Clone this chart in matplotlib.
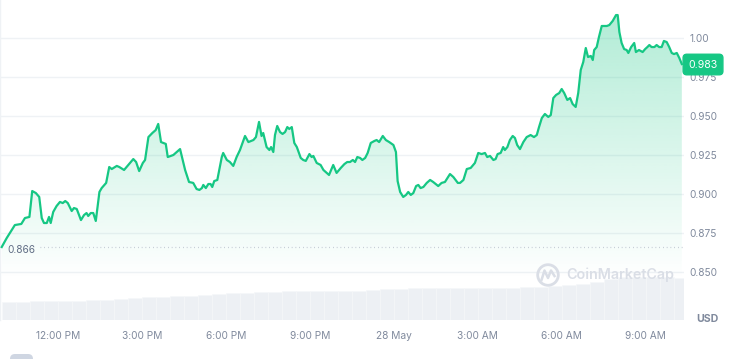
import numpy as np
import matplotlib
matplotlib.use("Agg")
import matplotlib.pyplot as plt
from matplotlib.patches import Circle, FancyBboxPatch
from matplotlib.lines import Line2D
from matplotlib.transforms import IdentityTransform

plt.rcParams['font.family'] = ['Inter', 'DejaVu Sans']

# ---------------- data ----------------
# time in hours relative to 12:00 PM (27 May); price in USD
hours = [-2.00, -1.82, -1.53, -1.30, -1.17, -1.01, -0.91, -0.78, -0.66, -0.57, -0.49, -0.39, -0.31,
         -0.25, -0.16, -0.04, 0.08, 0.18, 0.27, 0.36, 0.50, 0.58, 0.68, 0.83, 0.94, 1.03, 1.09, 1.18,
         1.27, 1.36, 1.49, 1.57, 1.73, 1.84, 1.93, 2.11, 2.20, 2.37, 2.52, 2.70, 2.80, 2.91, 3.04,
         3.12, 3.24, 3.38, 3.50, 3.59, 3.69, 3.77, 3.86, 3.93, 4.13, 4.25, 4.37, 4.55, 4.69, 4.84,
         4.96, 5.06, 5.15, 5.20, 5.29, 5.38, 5.46, 5.52, 5.59, 5.70, 5.86, 5.91, 6.04, 6.15, 6.27,
         6.39, 6.51, 6.69, 6.81, 6.99, 7.08, 7.19, 7.28, 7.34, 7.46, 7.56, 7.62, 7.70, 7.76, 7.84,
         7.94, 8.03, 8.12, 8.20, 8.27, 8.36, 8.45, 8.54, 8.68, 8.77, 8.86, 8.99, 9.07, 9.13, 9.25,
         9.39, 9.49, 9.61, 9.69, 9.84, 9.96, 10.11, 10.24, 10.34, 10.44, 10.54, 10.62, 10.70, 10.80,
         10.88, 10.98, 11.07, 11.18, 11.31, 11.39, 11.48, 11.61, 11.72, 11.84, 11.99, 12.08, 12.14,
         12.23, 12.34, 12.44, 12.52, 12.61, 12.70, 12.80, 12.88, 12.96, 13.06, 13.18, 13.30, 13.41,
         13.59, 13.71, 13.83, 14.01, 14.13, 14.29, 14.37, 14.49, 14.61, 14.75, 14.90, 15.02, 15.14,
         15.26, 15.34, 15.44, 15.56, 15.64, 15.71, 15.82, 15.91, 15.97, 16.06, 16.15, 16.25, 16.33,
         16.41, 16.51, 16.63, 16.75, 16.89, 17.01, 17.11, 17.19, 17.29, 17.40, 17.52, 17.61, 17.70,
         17.80, 17.91, 18.00, 18.09, 18.20, 18.30, 18.39, 18.50, 18.59, 18.68, 18.77, 18.86, 18.94,
         19.04, 19.11, 19.16, 19.25, 19.33, 19.43, 19.61, 19.70, 19.82, 19.94, 20.00, 20.06, 20.14,
         20.23, 20.32, 20.38, 20.48, 20.59, 20.65, 20.76, 20.89, 20.98, 21.06, 21.13, 21.21, 21.31,
         21.39, 21.48, 21.57, 21.65, 21.75, 21.84, 21.93, 22.01, 22.11, 22.20, 22.29]
prices = [0.8660, 0.8718, 0.8801, 0.8808, 0.8846, 0.8853, 0.9019, 0.9006, 0.8981, 0.8846, 0.8814, 0.8814, 0.8853,
          0.8814, 0.8885, 0.8923, 0.8949, 0.8942, 0.8955, 0.8942, 0.8891, 0.8910, 0.8904, 0.8833, 0.8865, 0.8878, 0.8859, 0.8878,
          0.8878, 0.8827, 0.9013, 0.9038, 0.9071, 0.9173, 0.9160, 0.9180, 0.9173, 0.9154, 0.9186, 0.9224, 0.9205, 0.9147, 0.9199,
          0.9218, 0.9365, 0.9391, 0.9410, 0.9449, 0.9333, 0.9327, 0.9321, 0.9237, 0.9250, 0.9269, 0.9288, 0.9154, 0.9077, 0.9071,
          0.9032, 0.9026, 0.9038, 0.9058, 0.9038, 0.9064, 0.9064, 0.9045, 0.9083, 0.9090, 0.9237, 0.9263, 0.9218, 0.9205, 0.9180,
          0.9237, 0.9282, 0.9372, 0.9333, 0.9346, 0.9365, 0.9462, 0.9372, 0.9391, 0.9301, 0.9282, 0.9301, 0.9269, 0.9378, 0.9436,
          0.9397, 0.9385, 0.9397, 0.9429, 0.9417, 0.9429, 0.9327, 0.9301, 0.9231, 0.9218, 0.9212, 0.9256, 0.9237, 0.9244, 0.9199,
          0.9186, 0.9154, 0.9135, 0.9122, 0.9186, 0.9135, 0.9167, 0.9192, 0.9205, 0.9205, 0.9218, 0.9205, 0.9237, 0.9231,
          0.9218, 0.9231, 0.9263, 0.9327, 0.9340, 0.9346, 0.9333, 0.9372, 0.9346, 0.9333, 0.9314, 0.9269, 0.9083,
          0.9013, 0.8981, 0.8994, 0.9013, 0.8994, 0.9006, 0.9051, 0.9058, 0.9038, 0.9045, 0.9071, 0.9090, 0.9077,
          0.9051, 0.9071, 0.9077, 0.9128, 0.9109, 0.9071, 0.9071, 0.9090, 0.9160, 0.9167, 0.9199, 0.9263, 0.9256,
          0.9263, 0.9237, 0.9244, 0.9218, 0.9224, 0.9256, 0.9263, 0.9301, 0.9282, 0.9301, 0.9346, 0.9372, 0.9359,
          0.9314, 0.9288, 0.9333, 0.9365, 0.9378, 0.9365, 0.9378, 0.9429, 0.9487, 0.9513, 0.9494, 0.9506, 0.9615,
          0.9635, 0.9647, 0.9673, 0.9647, 0.9603, 0.9615, 0.9577, 0.9558, 0.9647, 0.9795, 0.9846, 0.9936, 0.9878,
          0.9885, 0.9859, 0.9923, 0.9942, 1.0006, 1.0077, 1.0077, 1.0083, 1.0109, 1.0147, 1.0147, 1.0038, 0.9968,
          0.9929, 0.9923, 0.9904, 0.9942, 0.9968, 0.9910, 0.9923, 0.9910, 0.9929, 0.9942, 0.9955, 0.9942, 0.9942,
          0.9955, 0.9942, 0.9942, 0.9981, 0.9974, 0.9942, 0.9904, 0.9897, 0.9904, 0.9872, 0.9833]

# volume (relative units), one bar per half hour starting at -2.0 h
vol_start = -2.0
volume = [18, 18.5, 19, 19, 19.5, 19.5, 20, 20.5, 21.5, 22, 23, 23.5, 24, 24.5, 25.5, 26, 27, 27.5,
          28, 28.5, 29, 29, 29.5, 29.5, 29.5, 29.5, 30, 31, 31.5, 32.5, 32.5, 32.5, 32.5, 32, 32, 32,
          32.5, 33, 33.5, 34, 35, 36.5, 38.5, 41, 43, 43, 43, 43, 42.5]

open_price = 0.866
last_price = 0.983
tick_hours = [0, 3, 6, 9, 12, 15, 18, 21]
tick_labels = ["12:00 PM", "3:00 PM", "6:00 PM", "9:00 PM", "28 May", "3:00 AM", "6:00 AM", "9:00 AM"]
y_ticks = [0.850, 0.875, 0.900, 0.925, 0.950, 0.975, 1.00]
y_labels = ["0.850", "0.875", "0.900", "0.925", "0.950", "0.975", "1.00"]

# ---------------- style ----------------
GREEN = "#16c784"
GRID = "#eff2f5"
TXT = "#808a9d"
W, H = 738, 359

fig = plt.figure(figsize=(W / 100, H / 100), dpi=100)
fig.patch.set_facecolor("white")
pos = [0, 39 / H, 683.5 / W, 1 - 39 / H]

XMIN, XMAX = -2.061, 22.35
YMIN, YMAX = 0.81923, 1.02436

# volume axes (behind)
axv = fig.add_axes(pos, zorder=0)
vol_x = [vol_start + 0.5 * i for i in range(len(volume))]
axv.bar(vol_x, volume, width=0.5, align="edge", color="#edf0f4", edgecolor="#f6f7f9", linewidth=0.4)
axv.set_xlim(XMIN, XMAX)
axv.set_ylim(0, 320)
axv.axis("off")

# main price axes
ax = fig.add_axes(pos, zorder=1)
ax.patch.set_visible(False)
ax.set_xlim(XMIN, XMAX)
ax.set_ylim(YMIN, YMAX)

for yv in y_ticks:
    ax.axhline(yv, color=GRID, linewidth=1.0, zorder=0.5)

# gradient fill under price
poly = ax.fill_between(hours, prices, YMIN, color="none", linewidth=0)
n = 256
alphas = np.clip((np.linspace(YMIN, YMAX, n) - 0.845) / (1.02 - 0.845), 0, 1) * 0.34
rgba = np.zeros((n, 1, 4))
rgba[:, 0, 0] = 0x16 / 255
rgba[:, 0, 1] = 0xc7 / 255
rgba[:, 0, 2] = 0x84 / 255
rgba[:, 0, 3] = alphas
im = ax.imshow(rgba, extent=[hours[0], hours[-1], YMIN, YMAX], origin="lower",
               aspect="auto", zorder=1, interpolation="bilinear")
im.set_clip_path(poly.get_paths()[0], transform=ax.transData)
ax.set_xlim(XMIN, XMAX)
ax.set_ylim(YMIN, YMAX)

ax.plot(hours, prices, color=GREEN, linewidth=1.6, zorder=3, solid_joinstyle="round")

# open-price reference line
ax.plot([-0.65, XMAX], [open_price, open_price], color="#b8c0cc", linewidth=0.9,
        linestyle=(0, (0.6, 2.4)), zorder=2)
ax.annotate(f"{open_price:.3f}", xy=(XMIN, open_price), xycoords="data",
            xytext=(7, -2.5), textcoords="offset pixels", ha="left", va="center",
            fontsize=7.3, color="#616e85", zorder=4)

# axes styling
for s in ["top", "bottom", "right"]:
    ax.spines[s].set_visible(False)
ax.spines["left"].set_color(GRID)
ax.spines["left"].set_linewidth(1.0)
ax.set_xticks(tick_hours)
ax.set_xticklabels(tick_labels)
ax.yaxis.tick_right()
ax.set_yticks(y_ticks)
ax.set_yticklabels(y_labels)
ax.tick_params(axis="x", length=0, pad=8, labelsize=7.3, labelcolor=TXT)
ax.tick_params(axis="y", length=0, pad=4.3, labelsize=7.3, labelcolor=TXT)
ax.grid(False)

# last price badge
ax.annotate(f"{last_price:.3f}", xy=(1, last_price), xycoords=("axes fraction", "data"),
            xytext=(19.5, 0), textcoords="offset pixels", ha="center", va="center",
            fontsize=7.6, color="white", zorder=10, annotation_clip=False,
            bbox=dict(boxstyle="round,pad=0.5,rounding_size=0.35", fc=GREEN, ec=GREEN))

fig.text(707 / W, 1 - 319 / H, "USD", ha="center", va="center", fontsize=7.6,
         fontweight="bold", color="#808a9d")

# watermark
wm = "#dadee6"
fig.patches.append(Circle((548, H - 275), 10.3, transform=IdentityTransform(),
                          fill=False, edgecolor=wm, linewidth=2.0, figure=fig))
fig.lines.append(Line2D([541.5, 544.5, 548, 551, 554.5], [H - 280, H - 270.5, H - 278, H - 270.5, H - 276],
                        transform=IdentityTransform(), color=wm, linewidth=1.8, figure=fig))
fig.text(566 / W, 1 - 275 / H, "CoinMarketCap", ha="left", va="center", fontsize=10.3,
         fontweight="semibold", color=wm)

# small control at bottom-left
fig.patches.append(FancyBboxPatch((10, -6), 23, 11, boxstyle="round,pad=0,rounding_size=5",
                                  transform=IdentityTransform(), fc="#cfd6e2", ec="none", figure=fig))

fig.savefig("out.png", dpi=100, facecolor="white")
